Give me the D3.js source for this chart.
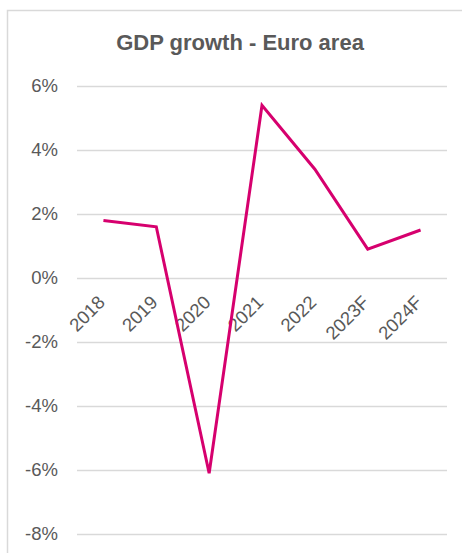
<!DOCTYPE html>
<html>
<head>
<meta charset="utf-8">
<script src="https://cdn.jsdelivr.net/npm/d3@7"></script>
<style>
  html, body { margin: 0; padding: 0; background: #fff; }
  svg { display: block; }
</style>
</head>
<body>
<svg id="chart" width="462" height="553"></svg>
<script>
// Real GDP growth, euro area (annual %, F = forecast)
const years = ["2018", "2019", "2020", "2021", "2022", "2023F", "2024F"];
const growth = [1.8, 1.6, -6.1, 5.4, 3.4, 0.9, 1.5];
const yTicks = [-8, -6, -4, -2, 0, 2, 4, 6];
const title = "GDP growth - Euro area";

const W = 462, H = 553;
const plot = { left: 77, right: 447, top: 86, bottom: 534 };
const font = "Liberation Sans, Arial, sans-serif";
const textColor = "#595959";
const gridColor = "#d9d9d9";
const lineColor = "#d6006e";

const svg = d3.select("#chart");

// chart frame
svg.append("rect")
  .attr("x", 7.5).attr("y", 10.5)
  .attr("width", 600).attr("height", 600)
  .attr("fill", "#fff")
  .attr("stroke", gridColor).attr("stroke-width", 1.5);

const x = d3.scaleBand().domain(years).range([plot.left, plot.right]);
const y = d3.scaleLinear().domain([-8, 6]).range([plot.bottom, plot.top]);

// title
svg.append("text")
  .attr("x", 240).attr("y", 50)
  .attr("text-anchor", "middle")
  .attr("font-family", font).attr("font-weight", "bold")
  .attr("font-size", 22).attr("fill", textColor)
  .text(title);

// y axis: gridlines + percent labels
const yAxis = d3.axisLeft(y)
  .tickValues(yTicks)
  .tickSize(-(plot.right - plot.left))
  .tickPadding(19)
  .tickFormat(d => d + "%");

const gy = svg.append("g")
  .attr("transform", `translate(${plot.left},0)`)
  .call(yAxis);
gy.select(".domain").remove();
gy.selectAll(".tick line").attr("stroke", gridColor).attr("stroke-width", 1.6);
gy.selectAll(".tick text")
  .attr("font-family", font).attr("font-size", 18.5)
  .attr("fill", textColor);

// category labels, rotated, hanging below the zero line
const gx = svg.append("g")
  .attr("transform", `translate(0,${y(0)})`)
  .call(d3.axisBottom(x).tickSize(0).tickPadding(0));
gx.select(".domain").remove();
gx.selectAll(".tick text")
  .attr("font-family", font).attr("font-size", 18.5)
  .attr("fill", textColor)
  .attr("text-anchor", "end")
  .attr("transform", "translate(-2,21) rotate(-45)")
  .attr("dy", "0.35em")
  .attr("y", 0);

// growth line
const line = d3.line()
  .x((d, i) => x(years[i]) + x.bandwidth() / 2)
  .y(d => y(d));

svg.append("path")
  .datum(growth)
  .attr("d", line)
  .attr("fill", "none")
  .attr("stroke", lineColor)
  .attr("stroke-width", 3)
  .attr("stroke-linejoin", "miter");
</script>
</body>
</html>
